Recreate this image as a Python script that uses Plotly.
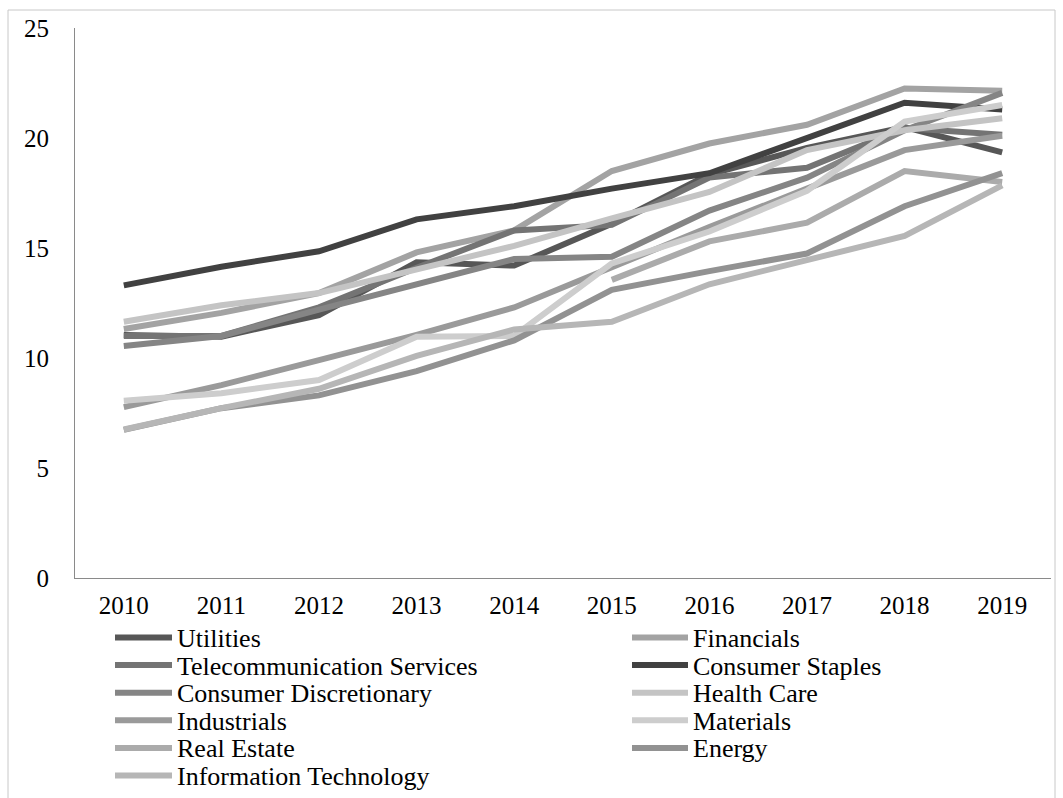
import plotly.graph_objects as go

# ---- data -------------------------------------------------------------
years = ["2010", "2011", "2012", "2013", "2014", "2015", "2016", "2017", "2018", "2019"]

utilities = [11.05, 10.97, 11.95, 14.35, 14.2, 16.1, 18.35, 19.55, 20.5, 19.35]
financials = [11.32, 12.05, 12.95, 14.8, 15.8, 18.5, 19.75, 20.6, 22.25, 22.15]
telecom = [11.0, 11.0, 12.3, 14.1, 15.8, 16.05, 18.2, 18.65, 20.45, 20.15]
consumer_staples = [13.3, 14.15, 14.85, 16.3, 16.9, 17.7, 18.4, 20.0, 21.6, 21.3]
consumer_discretionary = [10.55, 11.0, 12.2, 13.35, 14.5, 14.6, 16.7, 18.2, 20.35, 22.05]
health_care = [11.65, 12.4, 12.95, 14.05, 15.1, 16.35, 17.55, 19.45, 20.35, 20.9]
industrials = [7.77, 8.77, 9.9, 11.05, 12.3, 14.15, 15.95, 17.7, 19.45, 20.1]
materials = [8.06, 8.4, 9.0, 10.97, 11.0, 14.3, 15.75, 17.6, 20.75, 21.5]
real_estate = [None, None, None, None, None, 13.55, 15.3, 16.15, 18.5, 18.0]
energy = [6.73, 7.72, 8.3, 9.4, 10.8, 13.1, 13.95, 14.75, 16.9, 18.4]
info_tech = [6.75, 7.72, 8.6, 10.1, 11.3, 11.65, 13.35, 14.45, 15.55, 17.85]

series_names = [
    "Utilities", "Financials", "Telecommunication Services", "Consumer Staples",
    "Consumer Discretionary", "Health Care", "Industrials", "Materials",
    "Real Estate", "Energy", "Information Technology",
]
series_values = [
    utilities, financials, telecom, consumer_staples, consumer_discretionary,
    health_care, industrials, materials, real_estate, energy, info_tech,
]
series_colors = [
    "#575757", "#a3a3a3", "#747474", "#414141", "#858585",
    "#c4c4c4", "#9a9a9a", "#cdcdcd", "#ababab", "#929292", "#b6b6b6",
]

y_ticks = [0, 5, 10, 15, 20, 25]

# ---- layout geometry (pixels) -----------------------------------------
W, H = 1063, 798
ML, MR, MT, MB = 75, 12, 28, 220
PW, PH = W - ML - MR, H - MT - MB
FONT = "Liberation Serif, Times New Roman, serif"


def px_x(px):
    return (px - ML) / PW


def px_y(py):
    return (H - MB - py) / PH


fig = go.Figure()

for name, vals, col in zip(series_names, series_values, series_colors):
    fig.add_trace(go.Scatter(
        x=years, y=vals, name=name, mode="lines",
        line=dict(color=col, width=6),
        connectgaps=False, showlegend=False, hoverinfo="x+y+name",
    ))

# two-column legend laid out row by row
shapes = []
annotations = []
col_line_x = [(115, 172), (632, 688)]
col_text_x = [175, 691]
row_y0, row_step = 637.5, 27.6
for i, (name, col) in enumerate(zip(series_names, series_colors)):
    r, c = divmod(i, 2)
    py = row_y0 + r * row_step
    x0, x1 = col_line_x[c]
    shapes.append(dict(
        type="line", xref="paper", yref="paper",
        x0=px_x(x0), x1=px_x(x1), y0=px_y(py), y1=px_y(py),
        line=dict(color=col, width=6),
    ))
    annotations.append(dict(
        xref="paper", yref="paper", x=px_x(col_text_x[c]), y=px_y(py + 1),
        text=name, showarrow=False, xanchor="left", yanchor="middle",
        font=dict(family=FONT, size=26, color="#000000"),
    ))

# chart area border
shapes.append(dict(
    type="rect", xref="paper", yref="paper", layer="below",
    x0=px_x(8), x1=px_x(1055), y0=px_y(815), y1=px_y(10),
    line=dict(color="#c8c8c8", width=1), fillcolor="rgba(0,0,0,0)",
))

fig.update_layout(
    width=W, height=H,
    margin=dict(l=ML, r=MR, t=MT, b=MB),
    paper_bgcolor="white", plot_bgcolor="white",
    font=dict(family=FONT, size=26, color="#000000"),
    shapes=shapes, annotations=annotations,
    showlegend=False,
)
fig.update_xaxes(
    type="category", range=[-0.5, 9.5],
    showline=True, linecolor="#8a8a8a", linewidth=1,
    showgrid=False, zeroline=False, ticks="",
    tickfont=dict(family=FONT, size=25, color="#000000"),
    ticklabelstandoff=5,
)
fig.update_yaxes(
    range=[0, 25], tickvals=y_ticks,
    showline=True, linecolor="#8a8a8a", linewidth=1,
    showgrid=False, zeroline=False, ticks="",
    tickfont=dict(family=FONT, size=25, color="#000000"),
    ticklabelstandoff=20,
)

fig.write_html("out.html")
